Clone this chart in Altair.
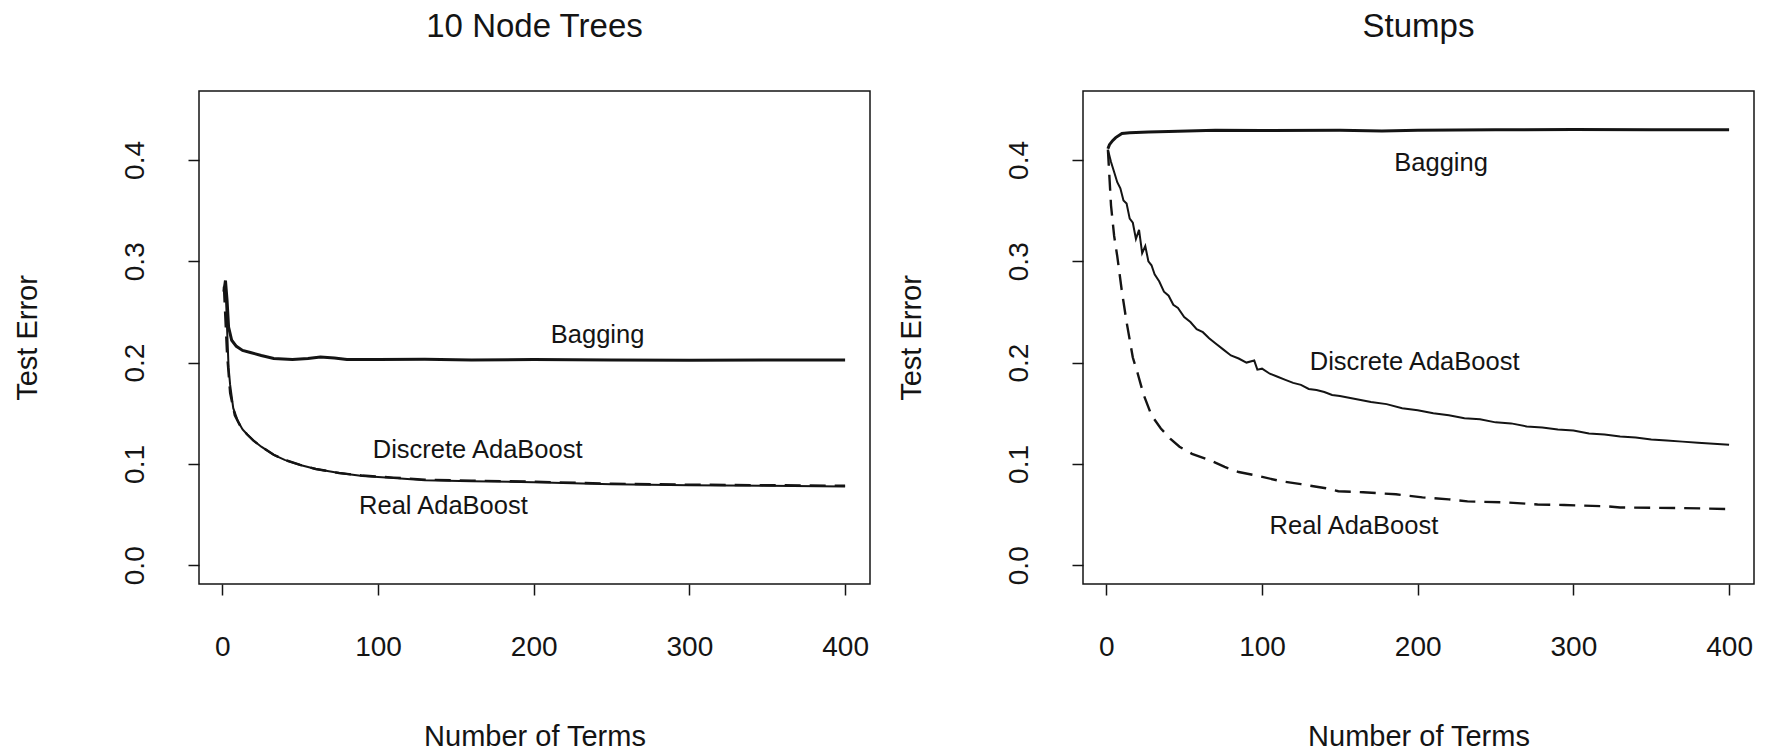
import altair as alt
import pandas as pd

FONT = "Liberation Sans"
INK = "#141414"

# ---------------- 10 Node Trees ----------------
trees_bag_x = [1, 2, 3, 4, 6, 9, 13, 18, 25, 33, 45, 55, 63, 72, 80, 100, 130, 160, 200, 250, 300, 350, 400]
trees_bag_y = [0.270, 0.281, 0.262, 0.235, 0.222, 0.216, 0.212, 0.210, 0.207, 0.204, 0.203, 0.204, 0.2055,
               0.2045, 0.203, 0.203, 0.2032, 0.2025, 0.203, 0.2025, 0.2022, 0.2025, 0.2025]

trees_disc_x = [1, 2, 3, 4, 5, 7, 10, 13, 16, 20, 25, 33, 40, 50, 60, 75, 90, 110, 130, 160, 200, 250, 300, 350, 400]
trees_disc_y = [0.270, 0.280, 0.235, 0.195, 0.178, 0.155, 0.142, 0.134, 0.129, 0.123, 0.117, 0.109, 0.104, 0.099,
                0.095, 0.091, 0.088, 0.086, 0.084, 0.083, 0.082, 0.080, 0.079, 0.0785, 0.0778]

trees_real_x = [1, 3, 5, 8, 12, 16, 20, 25, 33, 40, 50, 60, 75, 90, 110, 130, 160, 200, 250, 300, 350, 400]
trees_real_y = [0.275, 0.209, 0.170, 0.148, 0.136, 0.129, 0.123, 0.117, 0.109, 0.104, 0.099, 0.095, 0.091,
                0.0885, 0.0865, 0.0845, 0.0835, 0.0825, 0.0805, 0.0795, 0.079, 0.0785]

trees_label_text = ["Bagging", "Discrete AdaBoost", "Real AdaBoost"]
trees_label_x = [241, 164, 142]
trees_label_y = [0.219, 0.1056, 0.051]

# ---------------- Stumps ----------------
stumps_bag_x = [1, 2, 4, 6, 10, 15, 27, 40, 70, 100, 150, 177, 200, 250, 300, 350, 400]
stumps_bag_y = [0.411, 0.415, 0.419, 0.422, 0.426, 0.4268, 0.4276, 0.428, 0.4293, 0.429, 0.4292, 0.4285,
                0.4292, 0.4298, 0.430, 0.4298, 0.4298]

stumps_disc_x = [1, 3, 5, 7, 9, 11, 13, 15, 17, 19, 21, 23, 25, 27, 29, 31, 34, 37, 40, 43, 46, 50, 54, 58,
                 62, 66, 70, 75, 80, 85, 90, 95, 97, 100, 105, 110, 115, 120, 125, 130, 135, 140, 145, 150,
                 160, 170, 180, 190, 200, 210, 220, 230, 240, 250, 260, 270, 280, 290, 300, 310, 320, 330,
                 340, 350, 360, 370, 380, 390, 400]
stumps_disc_y = [0.410, 0.398, 0.388, 0.378, 0.372, 0.360, 0.357, 0.342, 0.338, 0.322, 0.331, 0.308, 0.315,
                 0.300, 0.296, 0.287, 0.280, 0.270, 0.266, 0.257, 0.254, 0.245, 0.240, 0.233, 0.230, 0.224,
                 0.219, 0.213, 0.207, 0.204, 0.200, 0.202, 0.193, 0.194, 0.189, 0.186, 0.183, 0.180, 0.178,
                 0.174, 0.173, 0.171, 0.168, 0.167, 0.164, 0.161, 0.159, 0.155, 0.153, 0.150, 0.148, 0.145,
                 0.144, 0.141, 0.140, 0.137, 0.136, 0.134, 0.133, 0.130, 0.129, 0.127, 0.126, 0.124, 0.123,
                 0.122, 0.121, 0.120, 0.119]

stumps_real_x = [1, 3, 5, 7, 10, 13, 17, 20, 24, 29, 35, 41, 47, 55, 66, 76, 85, 95, 112, 125, 141, 149, 165,
                 186, 203, 220, 232, 257, 277, 294, 323, 330, 368, 400]
stumps_real_y = [0.410, 0.355, 0.325, 0.305, 0.270, 0.240, 0.205, 0.190, 0.168, 0.148, 0.135, 0.125, 0.117,
                 0.110, 0.104, 0.097, 0.092, 0.089, 0.083, 0.080, 0.076, 0.073, 0.072, 0.070, 0.067, 0.065,
                 0.063, 0.062, 0.060, 0.0595, 0.058, 0.057, 0.0565, 0.0555]

stumps_label_text = ["Bagging", "Discrete AdaBoost", "Real AdaBoost"]
stumps_label_x = [215, 198, 159]
stumps_label_y = [0.389, 0.1925, 0.031]

x_ticks = [0, 100, 200, 300, 400]
y_ticks = [0.0, 0.1, 0.2, 0.3, 0.4]

PLOT_W = 671
PLOT_H = 493


def series(xs, ys):
    return pd.DataFrame({"terms": xs, "error": ys})


def panel(title, bag, disc, real, labels):
    xs = alt.Scale(domain=[-15, 416], nice=False, zero=False)
    ys = alt.Scale(domain=[-0.0185, 0.468], nice=False, zero=False)
    xaxis = alt.Axis(values=x_ticks, format="d", title="Number of Terms", grid=False, domain=False,
                     tickSize=11, tickWidth=1.5, tickColor=INK, labelFont=FONT, labelFontSize=28,
                     labelColor=INK, labelPadding=60, labelBaseline="alphabetic", labelFlush=False,
                     labelOverlap=False, titleFont=FONT, titleFontSize=29, titleFontWeight="normal",
                     titleColor=INK, titleX=PLOT_W / 2, titleY=161, titleBaseline="alphabetic",
                     titleAlign="center")
    yaxis = alt.Axis(values=y_ticks, format=".1f", title="Test Error", grid=False, domain=False,
                     tickSize=11, tickWidth=1.5, tickColor=INK, labelFont=FONT, labelFontSize=28,
                     labelColor=INK, labelPadding=45, labelAngle=270, labelAlign="center",
                     labelBaseline="alphabetic", labelFlush=False, labelOverlap=False,
                     titleFont=FONT, titleFontSize=29, titleFontWeight="normal", titleColor=INK,
                     titleAngle=270, titleX=-163, titleY=PLOT_H / 2, titleBaseline="alphabetic",
                     titleAlign="center")
    x = alt.X("terms:Q", scale=xs, axis=xaxis)
    y = alt.Y("error:Q", scale=ys, axis=yaxis)
    bag_line = alt.Chart(bag).mark_line(color=INK, strokeWidth=3.0).encode(x=x, y=y, order="terms:Q")
    disc_line = alt.Chart(disc).mark_line(color=INK, strokeWidth=2.0).encode(x=x, y=y, order="terms:Q")
    real_line = alt.Chart(real).mark_line(color=INK, strokeWidth=2.4, strokeDash=[16, 9]).encode(
        x=x, y=y, order="terms:Q")
    text = alt.Chart(labels).mark_text(font=FONT, fontSize=25.5, color=INK, align="center",
                                       baseline="alphabetic").encode(x=x, y=y, text="label:N")
    return alt.layer(bag_line, disc_line, real_line, text).properties(
        width=PLOT_W, height=PLOT_H,
        title=alt.TitleParams(title, font=FONT, fontSize=33, fontWeight="normal", color=INK,
                              baseline="alphabetic", offset=21, anchor="middle"))


left = panel("10 Node Trees",
             series(trees_bag_x, trees_bag_y),
             series(trees_disc_x, trees_disc_y),
             series(trees_real_x, trees_real_y),
             pd.DataFrame({"terms": trees_label_x, "error": trees_label_y, "label": trees_label_text}))

right = panel("Stumps",
              series(stumps_bag_x, stumps_bag_y),
              series(stumps_disc_x, stumps_disc_y),
              series(stumps_real_x, stumps_real_y),
              pd.DataFrame({"terms": stumps_label_x, "error": stumps_label_y, "label": stumps_label_text}))

chart = alt.hconcat(left, right, spacing=25).properties(
    padding={"left": 12, "top": 10, "right": 0, "bottom": 0},
    background="white",
).configure_view(stroke=INK, strokeWidth=1.5)

chart.save("out.html", embed_options={"renderer": "svg", "actions": False})
